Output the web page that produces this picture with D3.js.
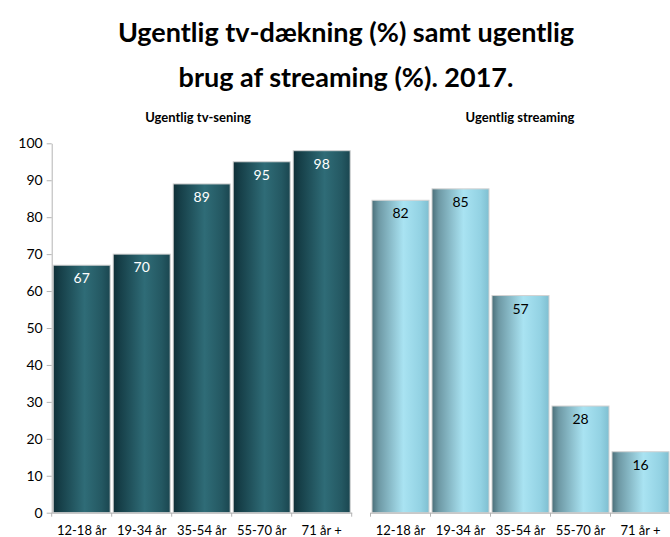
<!DOCTYPE html>
<html>
<head>
<meta charset="utf-8">
<script src="https://cdn.jsdelivr.net/npm/d3@7"></script>
<style>
  html, body { margin: 0; padding: 0; background: #fff; }
  svg { display: block; }
  text { font-family: Lato, "Open Sans", sans-serif; }
</style>
</head>
<body>
<svg id="chart" width="670" height="537"></svg>
<script>
// Age groups shared by both panels
const categories = ["12-18 år", "19-34 år", "35-54 år", "55-70 år", "71 år +"];
// Weekly TV reach (%)
const tvValues = [67, 70, 89, 95, 98];
// Weekly streaming use (%)
const streamValues = [82, 85, 57, 28, 16];
// Y-axis ticks of the left panel
const yTicks = [0, 10, 20, 30, 40, 50, 60, 70, 80, 90, 100];

const titleLines = ["Ugentlig tv-dækning (%) samt ugentlig", "brug af streaming (%). 2017."];
const panelTitles = ["Ugentlig tv-sening", "Ugentlig streaming"];

const svg = d3.select("#chart");
const defs = svg.append("defs");

// Horizontal cylinder-like shading for each series
function addGradient(id, stops) {
  const g = defs.append("linearGradient").attr("id", id)
    .attr("x1", "0%").attr("x2", "100%").attr("y1", "0%").attr("y2", "0%");
  stops.forEach(([o, c]) => g.append("stop").attr("offset", o).attr("stop-color", c));
}
addGradient("gradTv", [["0%", "#0f2f37"], ["12%", "#163f48"], ["55%", "#2f6c77"], ["85%", "#245862"], ["100%", "#1a4650"]]);
addGradient("gradStream", [["0%", "#4a6f79"], ["12%", "#6e99a5"], ["55%", "#a9e3f2"], ["85%", "#93d2e3"], ["100%", "#7fbfd1"]]);

// Main title
svg.append("g").selectAll("text").data(titleLines).join("text")
  .attr("x", 346).attr("y", (d, i) => 42 + i * 45)
  .attr("text-anchor", "middle")
  .style("font-size", "27px").style("font-weight", "bold").style("fill", "#000")
  .text(d => d);

const baseY = 512.7;
const axisColor = "#b4b4b4";

function drawPanel(cfg) {
  const x = d3.scaleBand().domain(categories).range([cfg.x0, cfg.x0 + 300]).padding(0);
  const y = d3.scaleLinear().domain([0, 100]).range([baseY, cfg.yTop]);
  const g = svg.append("g");

  // Panel title
  g.append("text")
    .attr("x", cfg.titleX).attr("y", 122)
    .attr("text-anchor", "middle")
    .style("font-size", "13px").style("font-weight", "bold").style("fill", "#000")
    .text(cfg.title);

  // Bars
  g.selectAll("rect.bar").data(cfg.values).join("rect")
    .attr("class", "bar")
    .attr("x", (d, i) => x(categories[i]) + 1.5)
    .attr("width", x.bandwidth() - 3)
    .attr("y", d => y(d))
    .attr("height", d => baseY - y(d))
    .attr("fill", `url(#${cfg.grad})`)
    .attr("stroke", "#d2d2d2").attr("stroke-width", 1);

  // Value labels inside the bars
  g.selectAll("text.val").data(cfg.values).join("text")
    .attr("class", "val")
    .attr("x", (d, i) => x(categories[i]) + x.bandwidth() / 2)
    .attr("y", d => y(d) + 18)
    .attr("text-anchor", "middle")
    .style("font-size", "14px").style("fill", cfg.labelColor)
    .text(d => d);

  // Category axis
  const xAxis = d3.axisBottom(x).tickSize(0).tickPadding(13);
  const ax = g.append("g").attr("transform", `translate(0,${baseY})`).call(xAxis);
  ax.select(".domain").attr("stroke", axisColor);
  ax.selectAll("text").style("font-size", "13px").style("fill", "#000")
    .style("font-family", "Lato, 'Open Sans', sans-serif");
  // Tick marks on band boundaries
  const bounds = categories.map(c => x(c)).concat([x.range()[1]]);
  g.selectAll("line.bt").data(bounds).join("line")
    .attr("class", "bt")
    .attr("x1", d => d).attr("x2", d => d)
    .attr("y1", baseY).attr("y2", baseY + 4)
    .attr("stroke", axisColor);

  if (cfg.showY) {
    const yAxis = d3.axisLeft(y).tickValues(yTicks).tickSize(5).tickPadding(4).tickSizeOuter(0);
    const ay = g.append("g").attr("transform", `translate(${cfg.x0},0)`).call(yAxis);
    ay.select(".domain").attr("stroke", axisColor);
    ay.selectAll(".tick line").attr("stroke", axisColor);
    ay.selectAll("text").style("font-size", "14px").style("fill", "#000")
      .style("font-family", "Lato, 'Open Sans', sans-serif");
  }
}

drawPanel({ x0: 51.7, yTop: 143.3, values: tvValues, grad: "gradTv", labelColor: "#fff",
            title: panelTitles[0], titleX: 198, showY: true });
drawPanel({ x0: 370.5, yTop: 131.7, values: streamValues, grad: "gradStream", labelColor: "#000",
            title: panelTitles[1], titleX: 520, showY: false });
</script>
</body>
</html>
